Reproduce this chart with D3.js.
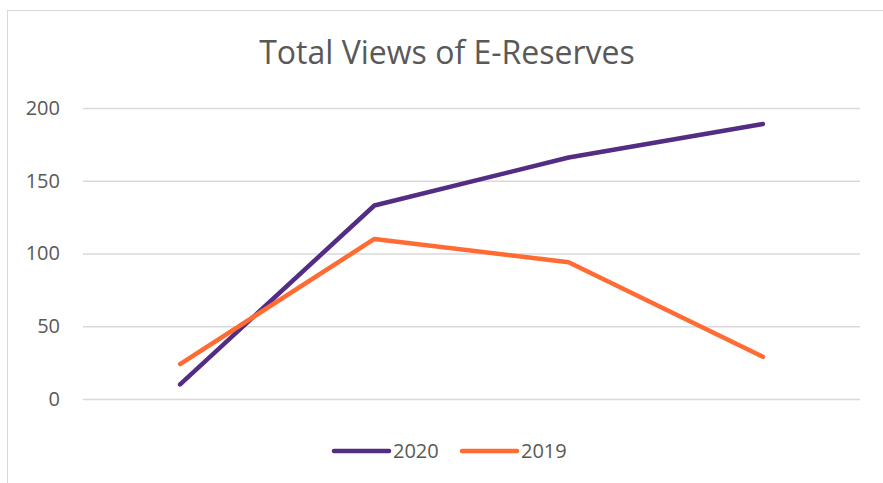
<!DOCTYPE html>
<html>
<head>
<meta charset="utf-8">
<script src="https://cdn.jsdelivr.net/npm/d3@7"></script>
<style>
  body { margin: 0; background: #fff; }
  text { font-family: "Open Sans", "Liberation Sans", sans-serif; fill: #595959; }
</style>
</head>
<body>
<div id="main"></div>
<script>
const ctx = {
    w: 883,
    h: 483,
    left: 83,
    right: 860,
    top: 108,
    bottom: 399
};

// values
const categories = ["Q1", "Q2", "Q3", "Q4"];
const views2020 = [10, 133, 166, 189];
const views2019 = [24, 110, 94, 29];
const yTicks = [0, 50, 100, 150, 200];
const series = [
    {name: "2020", values: views2020, color: "#532d84"},
    {name: "2019", values: views2019, color: "#ff6b33"}
];

function createViz(){
    let svgEl = d3.select("#main").append("svg")
                  .attr("width", ctx.w)
                  .attr("height", ctx.h);

    // chart area border
    svgEl.append("rect")
         .attr("x", 7.5)
         .attr("y", 10.5)
         .attr("width", 900)
         .attr("height", 500)
         .attr("fill", "#fff")
         .attr("stroke", "#d9d9d9")
         .attr("stroke-width", 1);

    svgEl.append("text")
         .attr("x", 447)
         .attr("y", 64)
         .attr("text-anchor", "middle")
         .style("font-size", "32px")
         .text("Total Views of E-Reserves");

    let x = d3.scalePoint()
              .domain(categories)
              .range([ctx.left, ctx.right])
              .padding(0.5);
    let y = d3.scaleLinear()
              .domain([0, 200])
              .range([ctx.bottom, ctx.top]);

    // gridlines + labels
    let yAxis = d3.axisLeft(y)
                  .tickValues(yTicks)
                  .tickSize(-(ctx.right - ctx.left))
                  .tickPadding(23);
    let axG = svgEl.append("g")
                   .attr("transform", `translate(${ctx.left},0)`)
                   .call(yAxis);
    axG.select(".domain").remove();
    axG.selectAll("line")
       .attr("stroke", "#d9d9d9")
       .attr("stroke-width", 1.5);
    axG.selectAll("text")
       .attr("fill", "#595959")
       .style("font-size", "20px")
       .style("font-family", "\"Open Sans\", sans-serif");

    let line = d3.line()
                 .x((d, i) => x(categories[i]))
                 .y(d => y(d));

    svgEl.append("g")
         .selectAll("path")
         .data(series)
         .enter()
         .append("path")
         .attr("d", d => line(d.values))
         .attr("fill", "none")
         .attr("stroke", d => d.color)
         .attr("stroke-width", 4.5)
         .attr("stroke-linecap", "round")
         .attr("stroke-linejoin", "round");

    // legend
    let legX = [334, 462];
    let leg = svgEl.append("g")
                   .selectAll("g")
                   .data(series)
                   .enter()
                   .append("g")
                   .attr("transform", (d, i) => `translate(${legX[i]},451)`);
    leg.append("line")
       .attr("x1", 0)
       .attr("x2", 55)
       .attr("stroke", d => d.color)
       .attr("stroke-width", 4.5)
       .attr("stroke-linecap", "round");
    leg.append("text")
       .attr("x", 59)
       .attr("y", 7)
       .style("font-size", "20px")
       .text(d => d.name);
}

createViz();
</script>
</body>
</html>
